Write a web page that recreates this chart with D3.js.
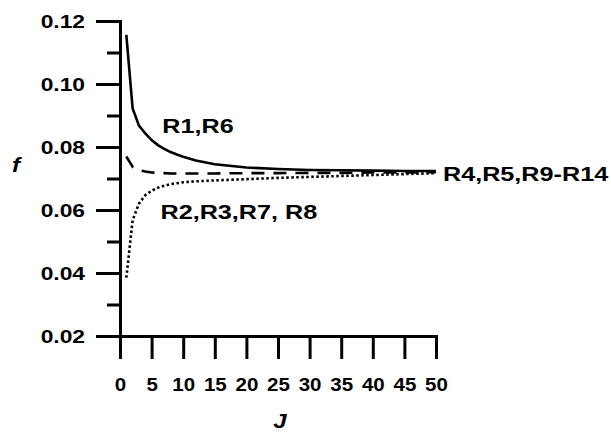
<!DOCTYPE html>
<html>
<head>
<meta charset="utf-8">
<script src="https://cdn.jsdelivr.net/npm/d3@7"></script>
<style>
  html, body { margin: 0; padding: 0; background: #fff; }
  svg { display: block; }
  text { font-family: "Liberation Sans", Arial, sans-serif; font-weight: bold; fill: #000; }
</style>
</head>
<body>
<svg id="chart" width="611" height="433"></svg>
<script>
// Number of subdivisions J
const J = [1, 2, 3, 4, 5, 6, 7, 8, 9, 10, 12, 15, 20, 25, 30, 35, 40, 45, 50];

// Friction factor f for each group of runs
const fR1R6     = [0.1156, 0.0922, 0.0868, 0.0843, 0.0822, 0.0806, 0.0794, 0.0784, 0.0776, 0.0769, 0.0757, 0.0745, 0.0735, 0.0730, 0.0727, 0.0726, 0.0725, 0.0724, 0.0724];
const fR4R5R9   = [0.0770, 0.0737, 0.0727, 0.0722, 0.0719, 0.0718, 0.0717, 0.0716, 0.0716, 0.0716, 0.0716, 0.0716, 0.0717, 0.0717, 0.0718, 0.0718, 0.0719, 0.0719, 0.0720];
const fR2R3R7R8 = [0.0385, 0.0568, 0.0620, 0.0647, 0.0661, 0.0671, 0.0677, 0.0682, 0.0685, 0.0688, 0.0691, 0.0694, 0.0698, 0.0702, 0.0705, 0.0708, 0.0711, 0.0714, 0.0717];

const xTicks = [0, 5, 10, 15, 20, 25, 30, 35, 40, 45, 50];
const yMajorTicks = [0.02, 0.04, 0.06, 0.08, 0.10, 0.12];
const yMinorTicks = [0.03, 0.05, 0.07, 0.09, 0.11];

const curveLabels = [
  { text: "R1,R6", j: 6.7, f: 0.0843 },
  { text: "R2,R3,R7, R8", j: 6.4, f: 0.0571 },
  { text: "R4,R5,R9-R14", j: 51.1, f: 0.0692 }
];

const svg = d3.select("#chart");

const x = d3.scaleLinear().domain([0, 50]).range([120, 436]);
const y = d3.scaleLinear().domain([0.02, 0.12]).range([336, 21]);

const SX = 1.2; // horizontal stretch of the lettering

// y axis: major ticks with labels, minor ticks without
const yAxis = svg.append("g").attr("transform", `translate(${x(0)},0)`)
  .call(d3.axisLeft(y).tickValues(yMajorTicks).tickSize(24).tickSizeOuter(0)
    .tickFormat(d3.format(".2f")));
yAxis.selectAll("text")
  .attr("x", 0).attr("dy", null).attr("dominant-baseline", "central")
  .attr("text-anchor", "end")
  .attr("transform", `translate(-35,0) scale(${SX},1)`)
  .style("font-size", "19px");

svg.append("g").attr("transform", `translate(${x(0)},0)`)
  .call(d3.axisLeft(y).tickValues(yMinorTicks).tickSize(13).tickSizeOuter(0).tickFormat(""))
  .select(".domain").remove();

// x axis
const xAxis = svg.append("g").attr("transform", `translate(0,${y(0.02)})`)
  .call(d3.axisBottom(x).tickValues(xTicks).tickSize(23).tickSizeOuter(0));
xAxis.selectAll("text")
  .attr("y", 0).attr("dy", null)
  .attr("transform", `translate(0,55) scale(1.08,1)`)
  .style("font-size", "19px");

svg.selectAll(".domain, .tick line")
  .attr("stroke", "#000").attr("stroke-width", 3);
svg.selectAll(".domain").attr("stroke-linecap", "square");

// curves
const line = d3.line().x(d => x(d[0])).y(d => y(d[1]));
const series = [
  { values: fR1R6, dash: null, width: 2.6 },
  { values: fR4R5R9, dash: "13,9", width: 2.6 },
  { values: fR2R3R7R8, dash: "2.5,2.5", width: 2.6 }
];
svg.append("g").selectAll("path").data(series).join("path")
  .attr("d", s => line(J.map((j, i) => [j, s.values[i]])))
  .attr("fill", "none")
  .attr("stroke", "#000")
  .attr("stroke-width", s => s.width)
  .attr("stroke-dasharray", s => s.dash);

// curve labels
svg.append("g").selectAll("text").data(curveLabels).join("text")
  .attr("transform", d => `translate(${x(d.j)},${y(d.f)}) scale(${SX},1)`)
  .style("font-size", "21px")
  .text(d => d.text);

// axis titles
svg.append("text")
  .attr("transform", `translate(16,172) scale(${SX},1)`)
  .attr("text-anchor", "middle")
  .style("font-size", "20px").style("font-style", "italic")
  .text("f");
svg.append("text")
  .attr("transform", `translate(280,428) scale(${SX},1)`)
  .attr("text-anchor", "middle")
  .style("font-size", "20px").style("font-style", "italic")
  .text("J");
</script>
</body>
</html>
